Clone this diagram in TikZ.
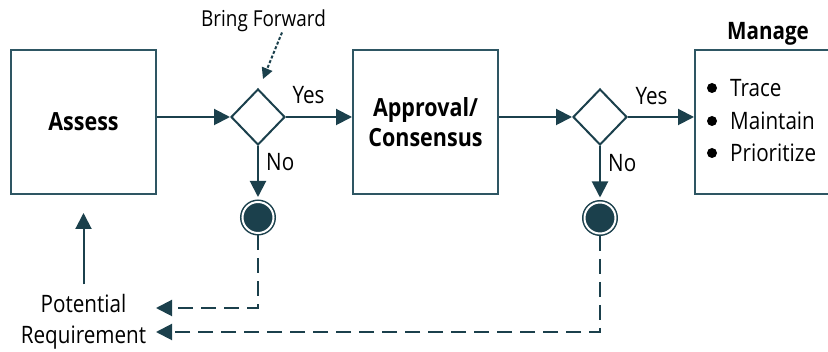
\documentclass[tikz,border=0pt]{standalone}
\usepackage{fontspec}
\setmainfont[FakeStretch=0.86]{Open Sans}
\usetikzlibrary{arrows.meta, positioning, shapes.geometric}
\usepackage{xcolor}
\definecolor{flowteal}{HTML}{1B404C}
\definecolor{boxline}{HTML}{2E5663}
\def\boxwidth{145pt}

\begin{document}
\begin{tikzpicture}[x=1pt, y=-1pt]
    \tikzstyle{box}=[rectangle, draw=boxline, line width=2pt, minimum width=\boxwidth, minimum height=144pt, inner sep=0pt, align=center, font=\bfseries\fontsize{25}{30}\selectfont]
    \tikzstyle{decision}=[diamond, draw=flowteal, line width=2pt, minimum width=54pt, minimum height=56pt, inner sep=0pt]
    \tikzstyle{endpoint}=[circle, draw=flowteal, fill=flowteal, double=white, double distance=2pt, line width=1.5pt, minimum size=31pt, inner sep=0pt, outer sep=2.5pt]
    \tikzstyle{lbl}=[inner sep=0pt, font=\fontsize{24}{31}\selectfont]
    \tikzstyle{flow}=[draw=flowteal, line width=2pt, -{Triangle[length=16pt,width=16pt]}]
    \tikzstyle{back}=[flow, dash pattern=on 15pt off 8pt]
    \tikzstyle{hint}=[draw=flowteal, line width=2pt, dash pattern=on 3pt off 2pt, -{Triangle[length=11pt,width=11pt]}]

    \useasboundingbox (0,0) rectangle (828,352);
    \clip (0,0) rectangle (828,352);

    % Draw the process boxes
    \node[box] (assess) at (83.5,122) {Assess};
    \node[box] (approval) at (425.5,122) {Approval/\\Consensus};
    \node[box, minimum width=150pt] (manage) at (770,122) {};
    \node[lbl, anchor=base, font=\bfseries\fontsize{24}{29}\selectfont] (title) at (768,40) {Manage};

    % Draw the list in the last box
    \foreach \txt / \y [count=\i] in {Trace/97, Maintain/130, Prioritize/162} {
        \node[lbl, anchor=base west] (item-\i) at (730,\y) {\txt};
        \fill[black] ([shift={(-18pt,9pt)}]item-\i.base west) circle (5pt);
    }

    % Draw the decisions and the end points
    \node[decision] (d1) at (258,117) {};
    \node[decision] (d2) at (600,117) {};
    \node[endpoint] (c1) at (258,217.5) {};
    \node[endpoint] (c2) at (600,218) {};

    % Annotate the decisions
    \node[lbl, anchor=base] (yes1) at (308.5,104) {Yes};
    \node[lbl, anchor=base] (yes2) at (651.5,105) {Yes};
    \node[lbl, anchor=base west] (no1) at (266,171) {No};
    \node[lbl, anchor=base west] (no2) at (608,172) {No};
    \node[lbl, anchor=base, font=\fontsize{22}{26}\selectfont] (bring) at (263.5,27) {Bring Forward};
    \node[lbl, align=center] (potential) at (83.5,322) {Potential\\Requirement};
    \coordinate (in1) at (156,308);
    \coordinate (in2) at (156,332);

    % Connect the main flow
    \draw[flow] (assess.east |- d1) -- (d1.west);
    \draw[flow] (d1.east) -- (approval.west |- d1);
    \draw[flow] (approval.east |- d2) -- (d2.west);
    \draw[flow] (d2.east) -- (manage.west |- d2);

    % The "No" branches
    \draw[flow, shorten >=2.5pt] (d1.south) -- (c1.north);
    \draw[flow, shorten >=2.5pt] (d2.south) -- (c2.north);
    \draw[back] (c1.south) |- (in1);
    \draw[back] (c2.south) |- (in2);

    % Input and hint arrows
    \draw[flow, shorten <=10pt, shorten >=18pt] (potential.north) -- (assess.south);
    \draw[hint] ([xshift=18.5pt]bring.south) -- ([xshift=5pt,yshift=9pt]d1.north);

\end{tikzpicture}
\end{document}
